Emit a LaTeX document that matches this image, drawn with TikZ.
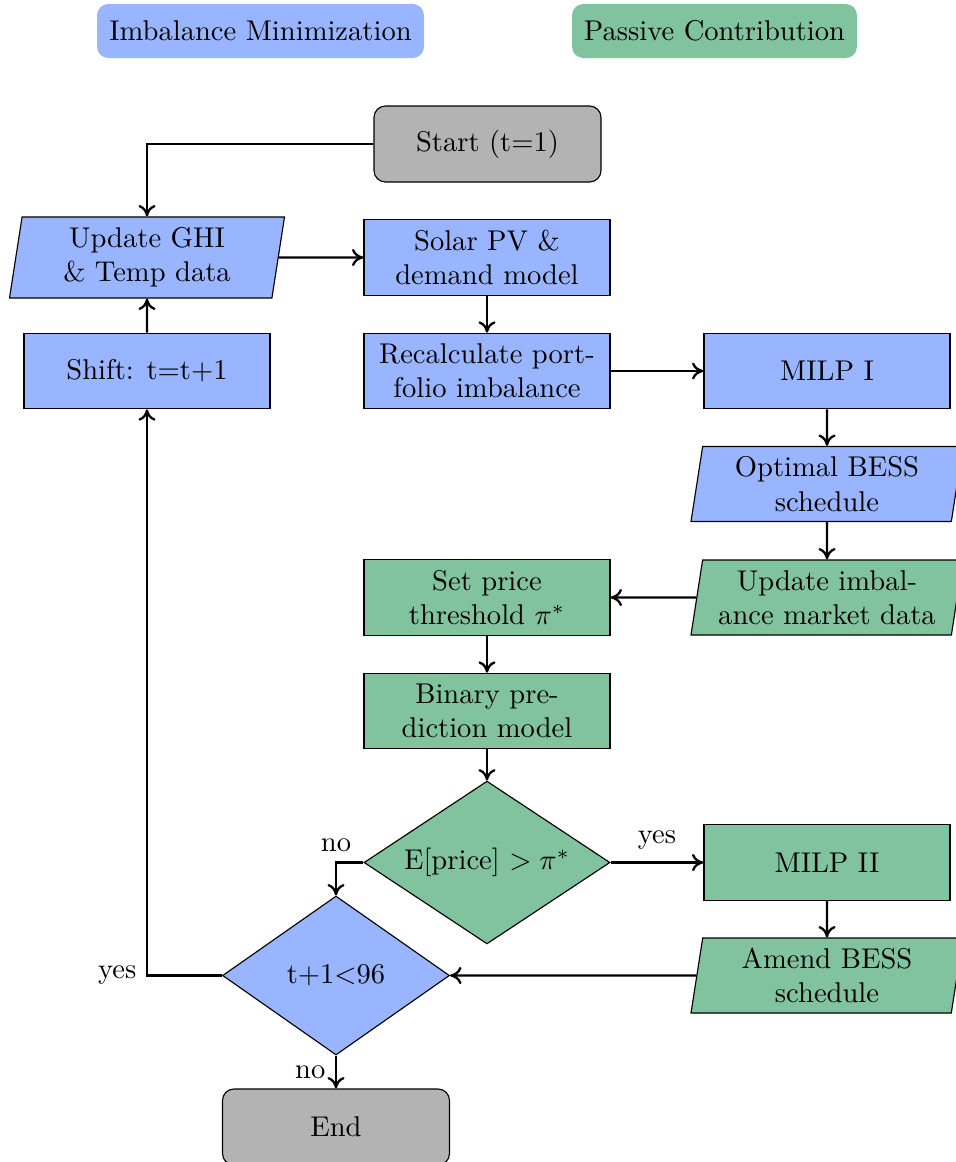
\documentclass[tikz,border=0pt]{standalone}
\usetikzlibrary{shapes.geometric,arrows.meta}
\definecolor{imbblue}{HTML}{99B5FF}
\definecolor{pasgreen}{HTML}{82C39F}
\definecolor{termgray}{HTML}{B3B3B3}
\begin{document}
\begin{tikzpicture}[x=0.35pt,y=-0.35pt,
  legendbox/.style={rectangle, rounded corners=4pt, inner sep=4pt, minimum height=18.9pt},
  procbox/.style={rectangle, draw=black, align=center, inner sep=2pt,
    minimum width=86.1pt, minimum height=26.4pt},
  termbox/.style={rectangle, rounded corners=4pt, draw=black, fill=termgray, align=center,
    minimum width=79.45pt, minimum height=26.6pt},
  iobox/.style={trapezium, trapezium left angle=80, trapezium right angle=100,
    trapezium stretches body, draw=black, align=center, inner sep=2pt,
    minimum width=95.2pt, minimum height=26.25pt},
  decbox/.style={diamond, draw=black, align=center, inner sep=0pt},
  flow/.style={thick, -{To[length=4pt,width=6pt]}},
  link/.style={thick}]
  \useasboundingbox (0,0) rectangle (955,1162);

  % legend
  \node[legendbox, fill=imbblue, minimum width=114.45pt] (lgA) at (260.5,31) {Imbalance Minimization};
  \node[legendbox, fill=pasgreen, minimum width=99.75pt] (lgB) at (714.5,31) {Passive Contribution};

  % imbalance minimization stage
  \node[termbox] (start) at (487.5,144) {Start (t=1)};
  \node[iobox, fill=imbblue, minimum width=96.25pt, minimum height=28.35pt] (ghi) at (147,257.5) {Update GHI\\\& Temp data};
  \node[procbox, fill=imbblue] (solar) at (487,257.5) {Solar PV \&\\demand model};
  \node[procbox, fill=imbblue] (shift) at (147,371) {Shift: t=t+1};
  \node[procbox, fill=imbblue] (recalc) at (487,371) {Recalculate port-\\folio imbalance};
  \node[procbox, fill=imbblue] (milpA) at (827,371) {MILP I};
  \node[iobox, fill=imbblue] (opt) at (827,484) {Optimal BESS\\schedule};

  % passive contribution stage
  \node[iobox, fill=pasgreen] (mkt) at (827,597.5) {Update imbal-\\ance market data};
  \node[procbox, fill=pasgreen] (price) at (487,597.5) {Set price\\threshold $\pi^*$};
  \node[procbox, fill=pasgreen] (binary) at (487,711) {Binary pre-\\diction model};
  \node[decbox, fill=pasgreen, shape aspect=2.2, minimum width=86.1pt, minimum height=57pt] (dec) at (487,862.5) {E[price] $> \pi^*$};
  \node[procbox, fill=pasgreen] (milpB) at (827,862.5) {MILP II};
  \node[iobox, fill=pasgreen] (amend) at (827,975.5) {Amend BESS\\schedule};

  % loop check and end
  \node[decbox, fill=imbblue, shape aspect=1.43, minimum width=79.45pt, minimum height=55.65pt] (chk) at (336,975.5) {t+1$<$96};
  \node[termbox] (stop) at (336,1127) {End};

  % connectors
  \draw[flow] (start.west) -| (ghi.north);
  \draw[flow] (ghi.east) -- (solar.west);
  \draw[flow] (solar.south) -- (recalc.north);
  \draw[flow] (recalc.east) -- (milpA.west);
  \draw[flow] (milpA.south) -- (opt.north);
  \draw[flow] (opt.south) -- (mkt.north);
  \draw[flow] (mkt.west) -- (price.east);
  \draw[flow] (price.south) -- (binary.north);
  \draw[flow] (binary.south) -- (dec.north);
  \draw[flow] (dec.east) -- node[above=1pt] {yes} (milpB.west);
  \draw[flow] (dec.west) -| node[pos=0.5, above] {no} (chk.north);
  \draw[flow] (milpB.south) -- (amend.north);
  \draw[flow] (amend.west) -- (chk.east);
  \draw[flow] (chk.west) -| node[pos=0.5, left] {yes} (shift.south);
  \draw[flow] (chk.south) -- node[left] {no} (stop.north);
  \draw[flow] (shift.north) -- (ghi.south);
\end{tikzpicture}
\end{document}
